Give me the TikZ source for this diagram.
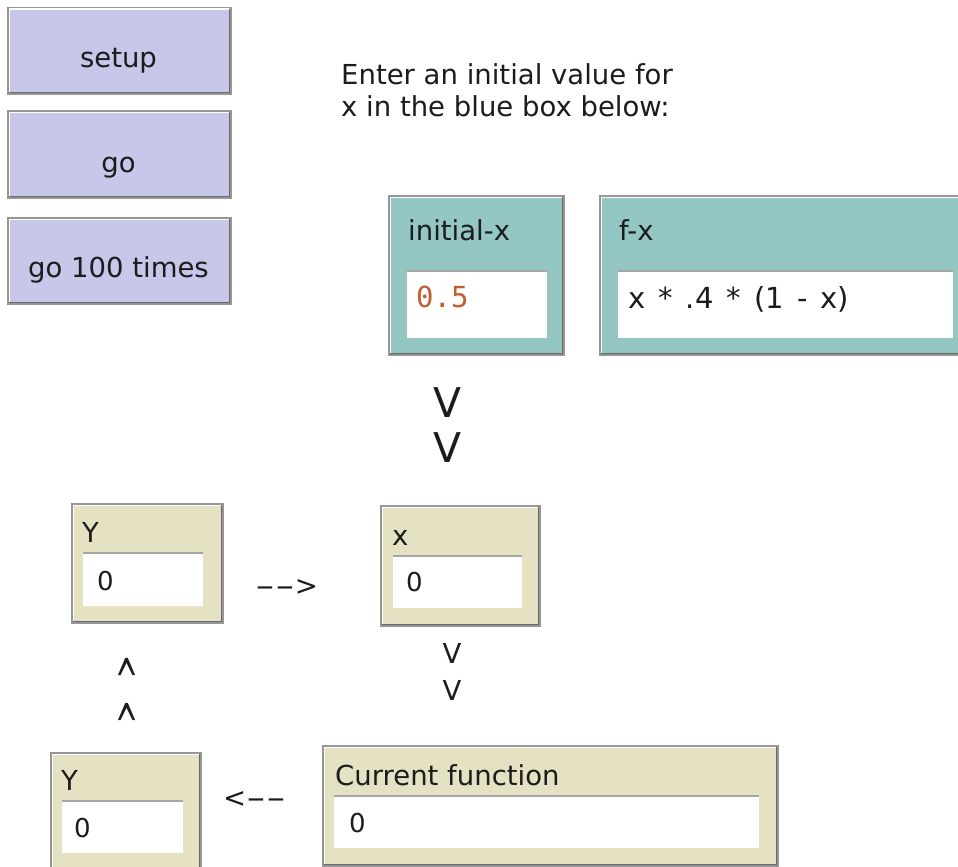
\documentclass[tikz,border=0pt]{standalone}
\usepackage{fontspec}
\setmainfont{DejaVu Sans}
\newfontfamily\valmono{DejaVu Sans Mono}
\definecolor{btnfill}{RGB}{199,199,233}
\definecolor{tealfill}{RGB}{148,198,196}
\definecolor{monfill}{RGB}{228,226,194}
\definecolor{bordergray}{RGB}{150,150,150}
\definecolor{bevdark}{RGB}{105,105,105}
\definecolor{fieldgray}{RGB}{165,165,165}
\definecolor{txtcol}{RGB}{28,28,28}
\definecolor{valorange}{RGB}{192,96,48}
\tikzset{
  widget/.style={draw=bordergray, line width=1.5pt, inner sep=0pt, anchor=north west},
  buttonbox/.style={widget, fill=btnfill},
  inputbox/.style={widget, fill=tealfill},
  monitorbox/.style={widget, fill=monfill},
  fieldbox/.style={fill=white, inner sep=0pt, anchor=north west},
  txt/.style={inner sep=0pt, text=txtcol, font=\fontsize{27.5}{32}\selectfont},
  valtxt/.style={txt, anchor=west, font=\fontsize{26}{30}\selectfont},
  bigv/.style={txt, anchor=base, font=\fontsize{41}{45}\selectfont},
  smallv/.style={txt, anchor=base},
}
\newcommand\bevel[1]{%
  \draw[white, line width=1.5pt] ([xshift=2.25pt,yshift=2.25pt]#1.south west) |- ([xshift=-2.25pt,yshift=-2.25pt]#1.north east);
  \draw[bevdark, line width=1.5pt] ([xshift=2.25pt,yshift=2.25pt]#1.south west) -| ([xshift=-2.25pt,yshift=-2.25pt]#1.north east);}
\newcommand\fieldline[1]{\draw[fieldgray, line width=1.5pt] (#1.north west) -- (#1.north east);}
\newcommand\longdash{\scalebox{2}[1]{-}}
\newcommand\upcaret{\raisebox{-27.8pt}[19pt][0pt]{\scalebox{1}[2.3]{\textasciicircum}}}
\begin{document}
\begin{tikzpicture}[x=1pt,y=-1pt]
\useasboundingbox (0,0) rectangle (958,867);
\clip (0,0) rectangle (958,867);
\fill[white] (0,0) rectangle (958,867);

% buttons
\node[buttonbox, minimum width=223pt, minimum height=86pt] (setupbtn) at (7,7) {};
\bevel{setupbtn}
\node[txt, anchor=base] (setuptxt) at (118.5,67) {setup};
\node[buttonbox, minimum width=223pt, minimum height=87pt] (gobtn) at (7,110) {};
\bevel{gobtn}
\node[txt, anchor=base] (gotxt) at (118.5,172) {go};
\node[buttonbox, minimum width=223pt, minimum height=86pt] (gohbtn) at (7,217) {};
\bevel{gohbtn}
\node[txt, anchor=base] (gohtxt) at (118.5,277) {go 100 times};

% instruction
\node[txt, anchor=base west, align=left] (instr) at (341,116) {Enter an initial value for\\x in the blue box below:};

% initial-x input
\node[inputbox, minimum width=175pt, minimum height=159pt] (initx) at (388,195) {};
\bevel{initx}
\node[fieldbox, minimum width=140pt, minimum height=67pt] (initxfield) at (407,271) {};
\fieldline{initxfield}
\node[txt, anchor=base west] (initxlbl) at (408,240) {initial-x};
\node[txt, anchor=west, text=valorange, font=\valmono\fontsize{29}{32}\selectfont] (initxval) at (416,297) {0.5};

% f-x input
\node[inputbox, minimum width=370pt, minimum height=159pt] (fx) at (599,195) {};
\bevel{fx}
\node[fieldbox, minimum width=335pt, minimum height=67pt] (fxfield) at (618,271) {};
\fieldline{fxfield}
\node[txt, anchor=base west] (fxlbl) at (619,240) {f-x};
\node[txt, anchor=base west, font=\fontsize{29}{32}\selectfont] (fxval) at (628,308) {\spaceskip=0.45em\relax x * .4 * (1 - x)};

% big arrows down
\node[bigv] (dn1) at (448,417) {V};
\node[bigv] (dn2) at (448,462) {V};

% Y monitor (upper)
\node[monitorbox, minimum width=151pt, minimum height=119pt] (yup) at (71,503) {};
\bevel{yup}
\node[fieldbox, minimum width=120pt, minimum height=53pt] (yupfield) at (83,553) {};
\fieldline{yupfield}
\node[txt, anchor=base west] (yuplbl) at (82,542) {Y};
\node[valtxt] (yupval) at (97,581) {0};

% arrow right
\node[txt, anchor=base west] (rarr) at (255,595) {\longdash\longdash>};

% x monitor
\node[monitorbox, minimum width=159pt, minimum height=120pt] (xmon) at (380,505) {};
\bevel{xmon}
\node[fieldbox, minimum width=129pt, minimum height=52pt] (xfield) at (393,556) {};
\fieldline{xfield}
\node[txt, anchor=base west] (xlbl) at (392,545) {x};
\node[valtxt] (xval) at (406,582) {0};

% small arrows down
\node[smallv] (dn3) at (452,663) {V};
\node[smallv] (dn4) at (452,700) {V};

% arrows up (two lines in one note)
\node[txt, anchor=base, align=center, font=\fontsize{27.5}{45}\selectfont] (upcarets) at (127,722) {\upcaret\\\upcaret};

% Y monitor (lower)
\node[monitorbox, minimum width=150pt, minimum height=125pt] (ylow) at (50,752) {};
\bevel{ylow}
\node[fieldbox, minimum width=121pt, minimum height=52pt] (ylowfield) at (62,801) {};
\fieldline{ylowfield}
\node[txt, anchor=base west] (ylowlbl) at (61,790) {Y};
\node[valtxt] (ylowval) at (74,828) {0};

% arrow left
\node[txt, anchor=base west] (larr) at (223,807) {<\longdash\longdash};

% current function monitor
\node[monitorbox, minimum width=455pt, minimum height=120pt] (cf) at (322,745) {};
\bevel{cf}
\node[fieldbox, minimum width=425pt, minimum height=52pt] (cffield) at (334,796) {};
\fieldline{cffield}
\node[txt, anchor=base west] (cflbl) at (335,785) {Current function};
\node[valtxt] (cfval) at (349,823) {0};
\end{tikzpicture}
\end{document}
